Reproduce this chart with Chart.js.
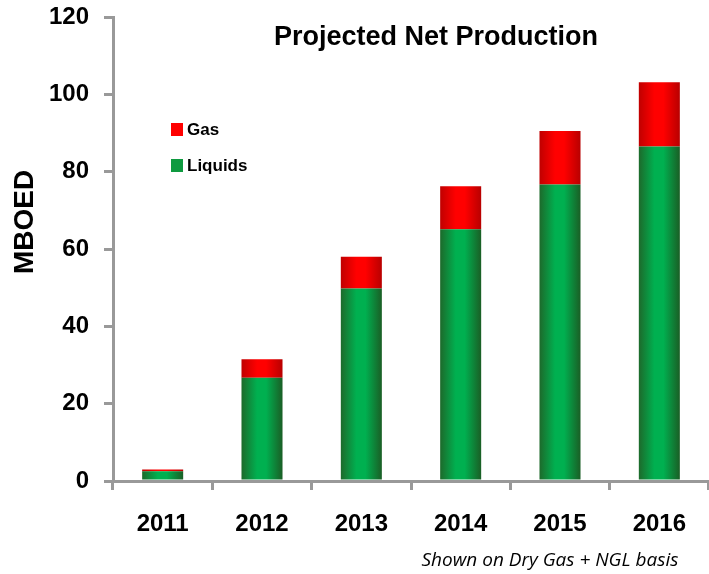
<!DOCTYPE html>
<html>
<head>
<meta charset="utf-8">
<script src="https://cdn.jsdelivr.net/npm/chart.js@4"></script>
<style>
  body { margin: 0; background: #fff; }
  #chart { display: block; }
</style>
</head>
<body>
<canvas id="chart" width="709" height="574"></canvas>
<script>
const years = ['2011', '2012', '2013', '2014', '2015', '2016'];
const liquids = [2.5, 26.7, 49.8, 65.1, 76.7, 86.5];
const gas = [0.5, 4.8, 8.2, 11.1, 13.8, 16.6];
const yTicks = [0, 20, 40, 60, 80, 100, 120];

const BAR_PCT = 0.413;
const AXIS_GREY = '#999999';

// horizontal "cylinder" shading, dark edges and bright middle
function shade(dark, light, darkRight) {
	return function(ctx) {
		const chart = ctx.chart;
		const xs = chart.scales.x;
		if (!chart.chartArea || !xs) return light;
		const cx = xs.getPixelForValue(ctx.dataIndex);
		const w = xs.width / years.length * BAR_PCT;
		const g = chart.ctx.createLinearGradient(cx - w / 2, 0, cx + w / 2, 0);
		g.addColorStop(0, dark);
		g.addColorStop(0.38, light);
		g.addColorStop(0.6, light);
		g.addColorStop(1, darkRight);
		return g;
	};
}

const extras = {
	id: 'extras',
	afterDraw(chart) {
		const c = chart.ctx;
		c.save();
		c.fillStyle = '#000';

		c.font = 'bold 27px "Liberation Sans"';
		c.textAlign = 'center';
		c.textBaseline = 'middle';
		c.fillText('Projected Net Production', 436, 38);

		c.save();
		c.translate(25, 222);
		c.rotate(-Math.PI / 2);
		c.font = 'bold 28px "Liberation Sans"';
		c.fillText('MBOED', 0, 0);
		c.restore();

		// legend, top entry is the top of the stack
		const items = chart.data.datasets.slice().reverse();
		c.font = 'bold 17px "Liberation Sans"';
		c.textAlign = 'left';
		items.forEach((ds, i) => {
			const y = 123 + i * 36;
			c.fillStyle = ds.legendColor;
			c.fillRect(171, y, 12, 13);
			c.fillStyle = '#000';
			c.fillText(ds.label, 187, y + 7);
		});

		c.font = 'italic 19px "Open Sans"';
		c.textAlign = 'center';
		c.fillText('Shown on Dry Gas + NGL basis', 550, 561);
		c.restore();
	}
};

new Chart(document.getElementById('chart'), {
	type: 'bar',
	data: {
		labels: years,
		datasets: [
			{
				label: 'Liquids',
				data: liquids,
				legendColor: '#0f9a40',
				backgroundColor: shade('#1d6a2b', '#00b050', '#1a5e25'),
				barPercentage: BAR_PCT,
				categoryPercentage: 1
			},
			{
				label: 'Gas',
				data: gas,
				legendColor: '#ff0000',
				backgroundColor: shade('#c00000', '#ff0000', '#b80000'),
				barPercentage: BAR_PCT,
				categoryPercentage: 1
			}
		]
	},
	options: {
		responsive: false,
		animation: false,
		layout: { padding: { top: 17, right: 0, left: 0, bottom: 0 } },
		plugins: {
			legend: { display: false },
			tooltip: { enabled: false }
		},
		scales: {
			x: {
				stacked: true,
				afterFit: s => { s.height = 93; s.paddingLeft = 0; s.paddingRight = 0; },
				border: { display: true, color: AXIS_GREY, width: 3 },
				grid: { drawOnChartArea: false, drawTicks: true, tickLength: 9, color: AXIS_GREY, lineWidth: 3 },
				ticks: { color: '#000', padding: 20, font: { family: 'Liberation Sans', weight: 'bold', size: 24 } }
			},
			y: {
				stacked: true,
				min: 0,
				max: 120,
				afterFit: s => { s.width = 113; s.paddingTop = 0; s.paddingBottom = 0; },
				afterBuildTicks: s => { s.ticks = yTicks.map(v => ({ value: v })); },
				border: { display: true, color: AXIS_GREY, width: 3 },
				grid: { drawOnChartArea: false, drawTicks: true, tickLength: 9, color: AXIS_GREY, lineWidth: 3 },
				ticks: { color: '#000', padding: 15, font: { family: 'Liberation Sans', weight: 'bold', size: 24 } }
			}
		}
	},
	plugins: [extras]
});
</script>
</body>
</html>
